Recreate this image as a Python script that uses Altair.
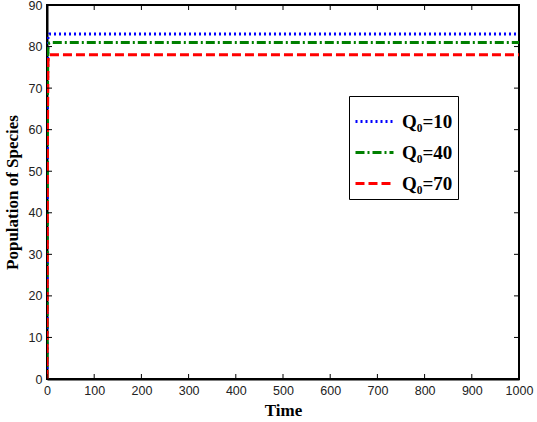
import altair as alt
import pandas as pd

time_pts = [0, 0.5, 1, 2, 3, 5, 10, 50, 1000]
q10_vals = [0, 40, 75, 82, 82.8, 83, 83, 83, 83]
q40_vals = [0, 35, 70, 79.5, 80.6, 80.9, 81, 81, 81]
q70_vals = [0, 25, 60, 76, 77.6, 78, 78, 78, 78]
series_names = ["Q₀=10", "Q₀=40", "Q₀=70"]
colors = ["#0000ff", "#008000", "#ff0000"]
dashes = [[2, 3], [9, 3, 2, 3], [9, 4]]
x_ticks = [0, 100, 200, 300, 400, 500, 600, 700, 800, 900, 1000]
y_ticks = [0, 10, 20, 30, 40, 50, 60, 70, 80, 90]

rows = []
for name, vals in zip(series_names, [q10_vals, q40_vals, q70_vals]):
    for t, v in zip(time_pts, vals):
        rows.append({"Time": t, "Pop": v, "Series": name})
df = pd.DataFrame(rows)

W, H = 472, 374
xs = alt.Scale(domain=[0, 1000], nice=False, zero=False)
ys = alt.Scale(domain=[0, 90], nice=False)

lines = alt.Chart(df).mark_line(strokeWidth=3, clip=True).encode(
    x=alt.X("Time:Q", scale=xs, axis=alt.Axis(values=x_ticks, title="Time", ticks=False, format="d")),
    y=alt.Y("Pop:Q", scale=ys, axis=alt.Axis(values=y_ticks, title="Population of Species", ticks=False)),
    color=alt.Color("Series:N", scale=alt.Scale(domain=series_names, range=colors),
                    legend=alt.Legend(title=None, orient="none", legendX=302, legendY=91,
                                      symbolType="stroke", symbolSize=1444, symbolStrokeWidth=3,
                                      labelFont="Liberation Serif", labelFontWeight="bold",
                                      labelFontSize=19, labelColor="black",
                                      rowPadding=-10, padding=5,
                                      fillColor="white", strokeColor="black",
                                      labelOffset=7)),
    strokeDash=alt.StrokeDash("Series:N", scale=alt.Scale(domain=series_names, range=dashes), legend=None),
    detail="Series:N",
)

xt = pd.DataFrame({"v": x_ticks})
yt = pd.DataFrame({"v": y_ticks})
tl = 5
xbot = alt.Chart(xt).mark_rule(color="black", strokeWidth=1).encode(
    x=alt.X("v:Q", scale=xs), y=alt.value(H), y2=alt.value(H - tl))
xtop = alt.Chart(xt).mark_rule(color="black", strokeWidth=1).encode(
    x=alt.X("v:Q", scale=xs), y=alt.value(0), y2=alt.value(tl))
yleft = alt.Chart(yt).mark_rule(color="black", strokeWidth=1).encode(
    y=alt.Y("v:Q", scale=ys), x=alt.value(0), x2=alt.value(tl))
yright = alt.Chart(yt).mark_rule(color="black", strokeWidth=1).encode(
    y=alt.Y("v:Q", scale=ys), x=alt.value(W), x2=alt.value(W - tl))

chart = alt.layer(lines, xbot, xtop, yleft, yright).properties(
    width=W, height=H,
    autosize=alt.AutoSizeParams(type="none"),
    padding={"left": 47, "top": 5, "right": 18, "bottom": 43},
).configure_view(stroke="black", strokeWidth=2).configure_axis(
    grid=False, domainColor="black", domainWidth=2,
    labelFont="Liberation Sans", labelFontSize=12.5, labelColor="#222222",
    labelPadding=5,
    titleFont="Liberation Serif", titleFontWeight="bold", titleFontSize=17, titleColor="black",
).configure_axisX(titlePadding=6, labelFlush=False).configure_axisY(titlePadding=7, labelFlush=False)

chart.save("out.html", embed_options={"renderer": "svg", "actions": False})
